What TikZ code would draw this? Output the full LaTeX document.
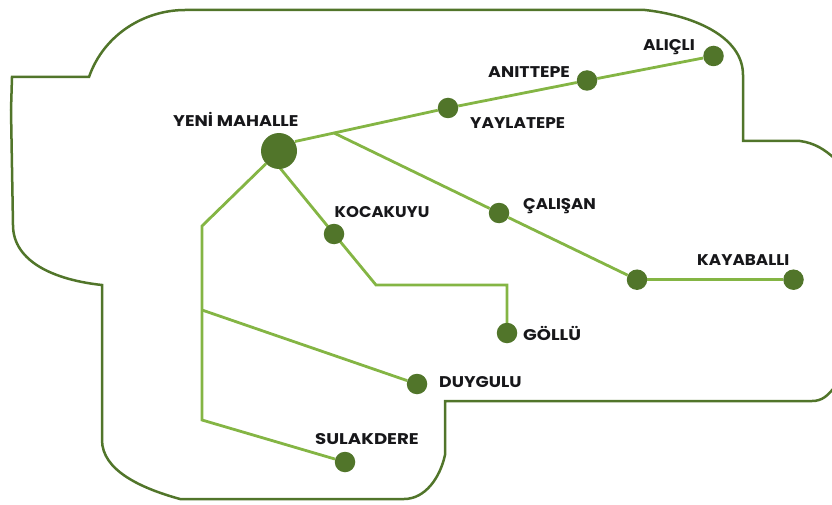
\documentclass[tikz,border=0pt]{standalone}
\usepackage{fontspec}
\setmainfont[FakeStretch=1.14]{Poppins}
\definecolor{darkg}{HTML}{51752A}
\definecolor{lightg}{HTML}{84B544}
\definecolor{ink}{HTML}{17171A}
\tikzset{
  outline/.style={draw=darkg,line width=2.5pt,line join=miter},
  link/.style={draw=lightg,line width=2.8pt,line join=miter},
  stop/.style={circle,fill=darkg,minimum size=20.5pt,inner sep=0pt},
  hub/.style={circle,fill=darkg,minimum size=36pt,inner sep=0pt},
  place/.style={anchor=base west,inner sep=0pt,text=ink,font=\fontsize{15.5}{17}\selectfont\bfseries},
  squeeze/.style={xscale=#1,transform shape}
}
\begin{document}
\begin{tikzpicture}[x=1pt,y=-1pt]
\useasboundingbox (0,0) rectangle (832,505);
\draw[outline] (12,77) -- (89,77)
  .. controls (104,34) and (145,10) .. (185,10)
  -- (645,10)
  .. controls (690,15) and (743,35) .. (743,75)
  -- (743,141) -- (800,141)
  .. controls (815,143) and (825,150) .. (834,158)
  -- (836,385)
  .. controls (828,396) and (822,401) .. (812,401)
  -- (445,401) -- (445,455)
  .. controls (440,478) and (425,499) .. (404,499)
  -- (180,499)
  .. controls (140,488) and (102,470) .. (102,440)
  -- (102,285)
  .. controls (55,280) and (13,262) .. (13,225)
  -- (11,110) -- (12,77) -- cycle;

\coordinate (forkA) at (334,133);
\coordinate (hubE) at (295,141.5);
\coordinate (hubS) at (280,168);
\coordinate (bendA) at (202,226);
\coordinate (forkB) at (202,310);
\coordinate (bendB) at (202,420);
\coordinate (bendC) at (376,285);
\coordinate (bendD) at (507,285);

\draw[link] (hubE) -- (forkA);
\draw[link] (hubS) -- (334,234) coordinate (kocaC) -- (bendC) -- (bendD) -- (507,333);

\node[hub] (yeni) at (279,151) {};
\node[stop] (yayla) at (448,108) {};
\node[stop] (anit) at (587,80.5) {};
\node[stop] (alic) at (713.5,56) {};
\node[stop] (cali) at (499,213) {};
\node[stop] (mid) at (637,279.7) {};
\node[stop] (kaya) at (793.5,279.7) {};
\node[stop] (koca) at (334,234) {};
\node[stop] (goll) at (507,333) {};
\node[stop] (duyg) at (417,384) {};
\node[stop] (sula) at (345,462) {};

\draw[link] (forkA) -- (yayla);
\draw[link] (yayla) -- (anit);
\draw[link] (anit) -- (alic);
\draw[link] (forkA) -- (cali);
\draw[link] (cali) -- (mid);
\draw[link] (mid) -- (kaya);
\draw[link] (yeni) -- (bendA) -- (bendB) -- (sula);
\draw[link] (forkB) -- (duyg);

\node[place] (lyeni) at (173,127) {YENİ MAHALLE};
\node[place,squeeze=0.93] (lkoca) at (334.5,218) {KOCAKUYU};
\node[place,squeeze=0.99] (lanit) at (488,78) {ANITTEPE};
\node[place,squeeze=0.96] (lyayla) at (470,129) {YAYLATEPE};
\node[place,squeeze=0.96] (lalic) at (643,51) {ALIÇLI};
\node[place,squeeze=0.94] (lcali) at (523,209) {ÇALIŞAN};
\node[place,squeeze=0.95] (lkaya) at (697,265) {KAYABALLI};
\node[place,squeeze=1.02] (lgoll) at (523,340) {GÖLLÜ};
\node[place,squeeze=0.98] (lduyg) at (439,387) {DUYGULU};
\node[place,squeeze=1.03] (lsula) at (315,444) {SULAKDERE};
\end{tikzpicture}
\end{document}
